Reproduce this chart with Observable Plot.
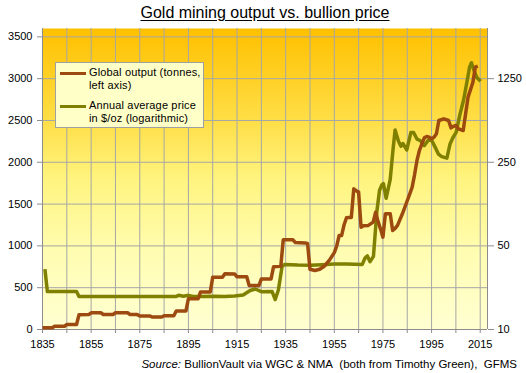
<!DOCTYPE html>
<html><head><meta charset="utf-8">
<script src="https://cdn.jsdelivr.net/npm/d3@7"></script>
<script src="https://cdn.jsdelivr.net/npm/@observablehq/plot@0.6"></script>
<style>
body{margin:0;background:#fff;font-family:"Liberation Sans",Arial,sans-serif;}
#wrap{position:relative;width:526px;height:373px;overflow:hidden;background:#fff;}
#title{position:absolute;left:0;width:530px;top:4px;text-align:center;font-size:16px;line-height:18px;color:#000;text-decoration:underline;text-underline-offset:2px;}
#chart{position:absolute;left:0;top:24px;}
#legend{position:absolute;left:55px;top:62px;width:147px;height:64px;background:#FFFFC8;border:1px solid #A0A0A0;font-size:11px;color:#000;}
.sw{position:absolute;left:4px;width:26px;height:3px;}
.lt{position:absolute;left:33px;line-height:13px;white-space:nowrap;letter-spacing:0.15px;}
#caption{position:absolute;right:9px;top:358px;font-size:11.5px;line-height:12px;white-space:nowrap;color:#000;}
</style></head><body>
<div id="wrap">
<div id="title">Gold mining output vs. bullion price</div>
<div id="chart"></div>
<div id="legend">
  <div class="sw" style="top:9px;background:#9C4A10"></div>
  <div class="lt" style="top:3px">Global output (tonnes,<br>left axis)</div>
  <div class="sw" style="top:42px;background:#808000"></div>
  <div class="lt" style="top:36px">Annual average price<br>in $/oz (logarithmic)</div>
</div>
<div id="caption"><i>Source:</i> BullionVault via WGC &amp; NMA&nbsp; (both from Timothy Green),&nbsp; GFMS</div>
</div>
<script>
// Global gold output, tonnes (left axis)
const outYears = [1835,1839,1840,1844,1845,1849,1850,1854,1855,1859,1860,1864,1865,1870,1871,1874,1875,1879,1880,1884,1885,1889,1890,1894,1895,1899,1900,1904,1905,1909,1910,1914,1915,1919,1920,1924,1925,1929,1930,1933,1934,1938,1939,1943,1944,1945,1947,1949,1951,1953,1955,1956,1957,1958,1959,1960,1961,1962,1963,1964,1965,1966,1967,1969,1971,1972,1973,1974,1975,1976,1977,1978,1979,1980,1981,1983,1985,1986,1987,1988,1989,1990,1992,1993,1994,1995,1996,1997,1998,2000,2002,2003,2004,2005,2006,2008,2009,2010,2011,2012,2013,2014];
const outTonnes = [20,20,38,38,60,60,175,178,200,200,180,180,200,200,180,178,162,162,150,150,165,165,222,222,368,368,450,450,626,626,668,665,630,630,525,525,605,605,750,755,1073,1073,1040,1035,1030,720,705,720,760,830,920,1000,1124,1124,1250,1336,1340,1340,1683,1660,1643,1224,1240,1245,1284,1403,1290,1204,1104,1384,1384,1384,1184,1210,1245,1384,1540,1620,1700,1850,2022,2141,2293,2309,2300,2281,2300,2341,2500,2520,2500,2412,2430,2440,2400,2380,2580,2779,2867,2958,3138,3150];

// Annual average gold price, $/oz (right axis, logarithmic)
const priceYears = [1836,1837,1849,1850,1890,1891,1893,1895,1897,1900,1905,1910,1914,1917.5,1920.4,1922.5,1925,1929.4,1930.7,1932,1933.5,1934.5,1940,1945,1950,1955,1960,1966.5,1967.7,1968.6,1969.7,1971.1,1972.5,1973.6,1974.6,1975.2,1976.3,1978,1979.1,1980,1981.4,1982.4,1983.2,1984.8,1986.5,1987.6,1989,1990.3,1992,1993.7,1995.1,1996.5,1997.8,1999.2,2001.3,2002.6,2003.7,2005.1,2006.7,2008.1,2009.5,2010.6,2011.4,2012.5,2013.6,2015.2];
const priceUsd = [32,20.8,20.8,18.9,18.9,19.3,19.0,19.3,18.9,18.9,19.0,18.9,19.1,19.4,21.2,21.8,20.7,20.8,17.8,21.4,33.5,35,34.6,34.5,34.8,35.2,35.3,35,39.8,41.2,36.9,40.9,97,146,162,166,125,180,312,466,374,340,359,317,444,444,391,380,344,384,380,333,293,279,271,356,399,444,632,817,1162,1551,1700,1454,1278,1187];

const xTicks = d3.range(1835, 2016, 20);
const xMinor = d3.range(1835, 2016, 10);
const leftTicks = d3.range(0, 3501, 500);
const rightTicks = [10, 50, 250, 1250];

// price mapped onto left scale: 10 -> 0, each factor 5 -> 1000
const toLeft = p => 1000 * Math.log(p / 10) / Math.log(5);

const output = outYears.map((y, i) => ({year: y, v: outTonnes[i]}));
const price = priceYears.map((y, i) => ({year: y, v: toLeft(priceUsd[i])}));

const grid = "#A6A6A6";
const axisCol = "#8C8C8C";

const chart = Plot.plot({
  width: 526,
  height: 331,
  marginTop: 4,
  marginBottom: 26,
  marginLeft: 42,
  marginRight: 39,
  style: {fontFamily: "'Liberation Sans', Arial, sans-serif", fontSize: "11px", background: "transparent", color: "#000"},
  x: {domain: [1835, 2018], label: null},
  y: {domain: [0, 3600], label: null},
  marks: [
    Plot.frame({fill: "url(#bgGrad)", stroke: "none"}),
    Plot.gridX(xMinor, {stroke: grid, strokeOpacity: 1, strokeWidth: 1}),
    Plot.gridY(leftTicks.filter(d => d > 0), {stroke: grid, strokeOpacity: 1, strokeWidth: 1}),
    Plot.ruleX([1835, 2018], {stroke: axisCol}),
    Plot.ruleY([0], {stroke: axisCol}),
    Plot.axisX(xMinor, {tickSize: 4, tickFormat: () => "", stroke: axisCol, label: null}),
    Plot.axisX(xTicks, {tickSize: 0, tickPadding: 11, tickFormat: d => String(d), fill: "#000", label: null}),
    Plot.axisY(leftTicks, {anchor: "left", tickSize: 5, tickPadding: 5, stroke: axisCol, fill: "#000", label: null,
      tickFormat: d => String(d)}),
    Plot.axisY(rightTicks.map(toLeft), {anchor: "right", tickSize: 6, tickPadding: 4, stroke: axisCol, fill: "#000", label: null,
      tickFormat: d => String(Math.round(10 * Math.pow(5, d / 1000)))}),
    Plot.line(price, {x: "year", y: "v", stroke: "#808000", strokeWidth: 3.5, strokeLinejoin: "round", strokeLinecap: "butt"}),
    Plot.line(output, {x: "year", y: "v", stroke: "#9C4A10", strokeWidth: 3.5, strokeLinejoin: "round", strokeLinecap: "butt"})
  ]
});

const svg = d3.select(chart);
const defs = svg.insert("defs", ":first-child");
const g = defs.append("linearGradient").attr("id", "bgGrad").attr("x1", 0).attr("y1", 0).attr("x2", 0).attr("y2", 1);
[[0, "#FFC000"], [0.3, "#FFDE45"], [0.5, "#FFF47F"], [0.75, "#FFFDB2"], [1, "#FFFFD2"]].forEach(([o, c]) =>
  g.append("stop").attr("offset", o).attr("stop-color", c));

document.getElementById("chart").appendChild(chart);
</script>
</body></html>
